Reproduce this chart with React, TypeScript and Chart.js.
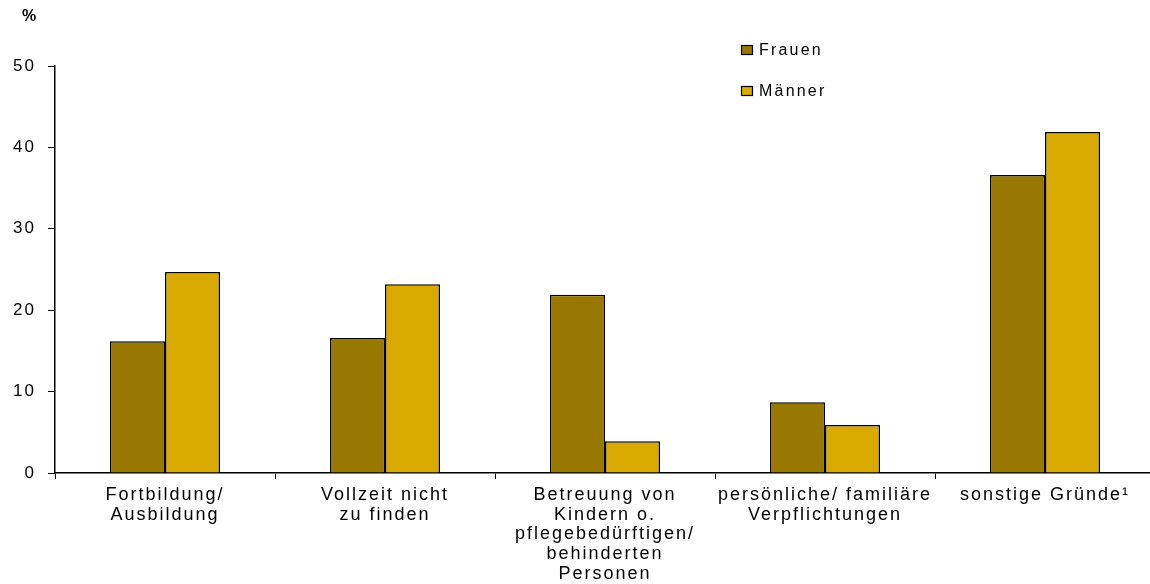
import React, { useEffect, useRef } from "react";
import { Chart, registerables } from "chart.js";

Chart.register(...registerables);

const categories: string[][] = [
  ["Fortbildung/", "Ausbildung"],
  ["Vollzeit nicht", "zu finden"],
  ["Betreuung von", "Kindern o.", "pflegebedürftigen/", "behinderten", "Personen"],
  ["persönliche/ familiäre", "Verpflichtungen"],
  ["sonstige Gründe¹"],
];
const seriesNames = ["Frauen", "Männer"];
const frauen = [16.2, 16.6, 21.9, 8.7, 36.6];
const maenner = [24.7, 23.2, 3.9, 5.9, 41.9];
const yMin = 0;
const yMax = 50;
const yStep = 10;
const unitLabel = "%";

const colors = ["#997800", "#DAAA00"];
const FONT = '"Liberation Sans", Arial, sans-serif';

const overlayPlugin = {
  id: "overlay",
  beforeDraw(chart: any) {
    chart.ctx.letterSpacing = "2px";
  },
  afterDraw(chart: any) {
    const ctx = chart.ctx;
    ctx.save();
    ctx.letterSpacing = "2.2px";
    ctx.font = `16px ${FONT}`;
    ctx.textBaseline = "middle";
    ctx.textAlign = "left";
    chart.data.datasets.forEach((ds: any, i: number) => {
      const y = 50 + i * 41;
      ctx.fillStyle = ds.backgroundColor;
      ctx.fillRect(741, y - 5, 12, 10);
      ctx.strokeStyle = "#000";
      ctx.lineWidth = 1.2;
      ctx.strokeRect(741.5, y - 4.5, 11, 9);
      ctx.fillStyle = "#000";
      ctx.fillText(ds.label, 759, y + 1);
    });
    ctx.letterSpacing = "0px";
    ctx.font = `bold 16px ${FONT}`;
    ctx.textAlign = "center";
    ctx.fillText(unitLabel, 29, 17);
    ctx.restore();
  },
};

export default function App() {
  const ref = useRef<HTMLCanvasElement | null>(null);

  useEffect(() => {
    if (!ref.current) return;
    document.body.style.margin = "0";
    const chart = new Chart(ref.current, {
      type: "bar",
      data: {
        labels: categories,
        datasets: [
          {
            label: seriesNames[0],
            data: frauen,
            backgroundColor: colors[0],
            borderColor: "#000",
            borderWidth: 1.5,
          },
          {
            label: seriesNames[1],
            data: maenner,
            backgroundColor: colors[1],
            borderColor: "#000",
            borderWidth: 1.5,
          },
        ],
      },
      options: {
        animation: false,
        responsive: false,
        maintainAspectRatio: false,
        devicePixelRatio: 1,
        layout: { padding: { top: 66, right: 5, left: 0, bottom: 0 } },
        plugins: {
          legend: { display: false },
          tooltip: { enabled: false },
        },
        datasets: {
          bar: { barPercentage: 1, categoryPercentage: 0.5 },
        },
        scales: {
          x: {
            grid: {
              offset: true,
              drawOnChartArea: false,
              drawTicks: true,
              tickLength: 6,
              color: "#000",
            },
            border: { display: true, color: "#000", width: 1.5 },
            ticks: {
              color: "#000",
              font: { family: FONT, size: 18, lineHeight: 1.1 },
              maxRotation: 0,
              minRotation: 0,
              autoSkip: false,
              padding: 6,
            },
            afterFit(scale: any) {
              scale.height = 111;
            },
          },
          y: {
            min: yMin,
            max: yMax,
            grid: {
              drawOnChartArea: false,
              drawTicks: true,
              tickLength: 7,
              color: "#000",
            },
            border: { display: true, color: "#000", width: 1.5 },
            ticks: {
              stepSize: yStep,
              color: "#000",
              font: { family: FONT, size: 17 },
              padding: 12,
            },
            afterFit(scale: any) {
              scale.width = 55;
            },
          },
        },
      },
      plugins: [overlayPlugin],
    });
    return () => chart.destroy();
  }, []);

  return (
    <div
      style={{
        position: "fixed",
        left: 0,
        top: 0,
        width: 1150,
        height: 584,
        overflow: "hidden",
        background: "#fff",
      }}
    >
      <canvas ref={ref} width={1160} height={584} style={{ width: 1160, height: 584 }} />
    </div>
  );
}
